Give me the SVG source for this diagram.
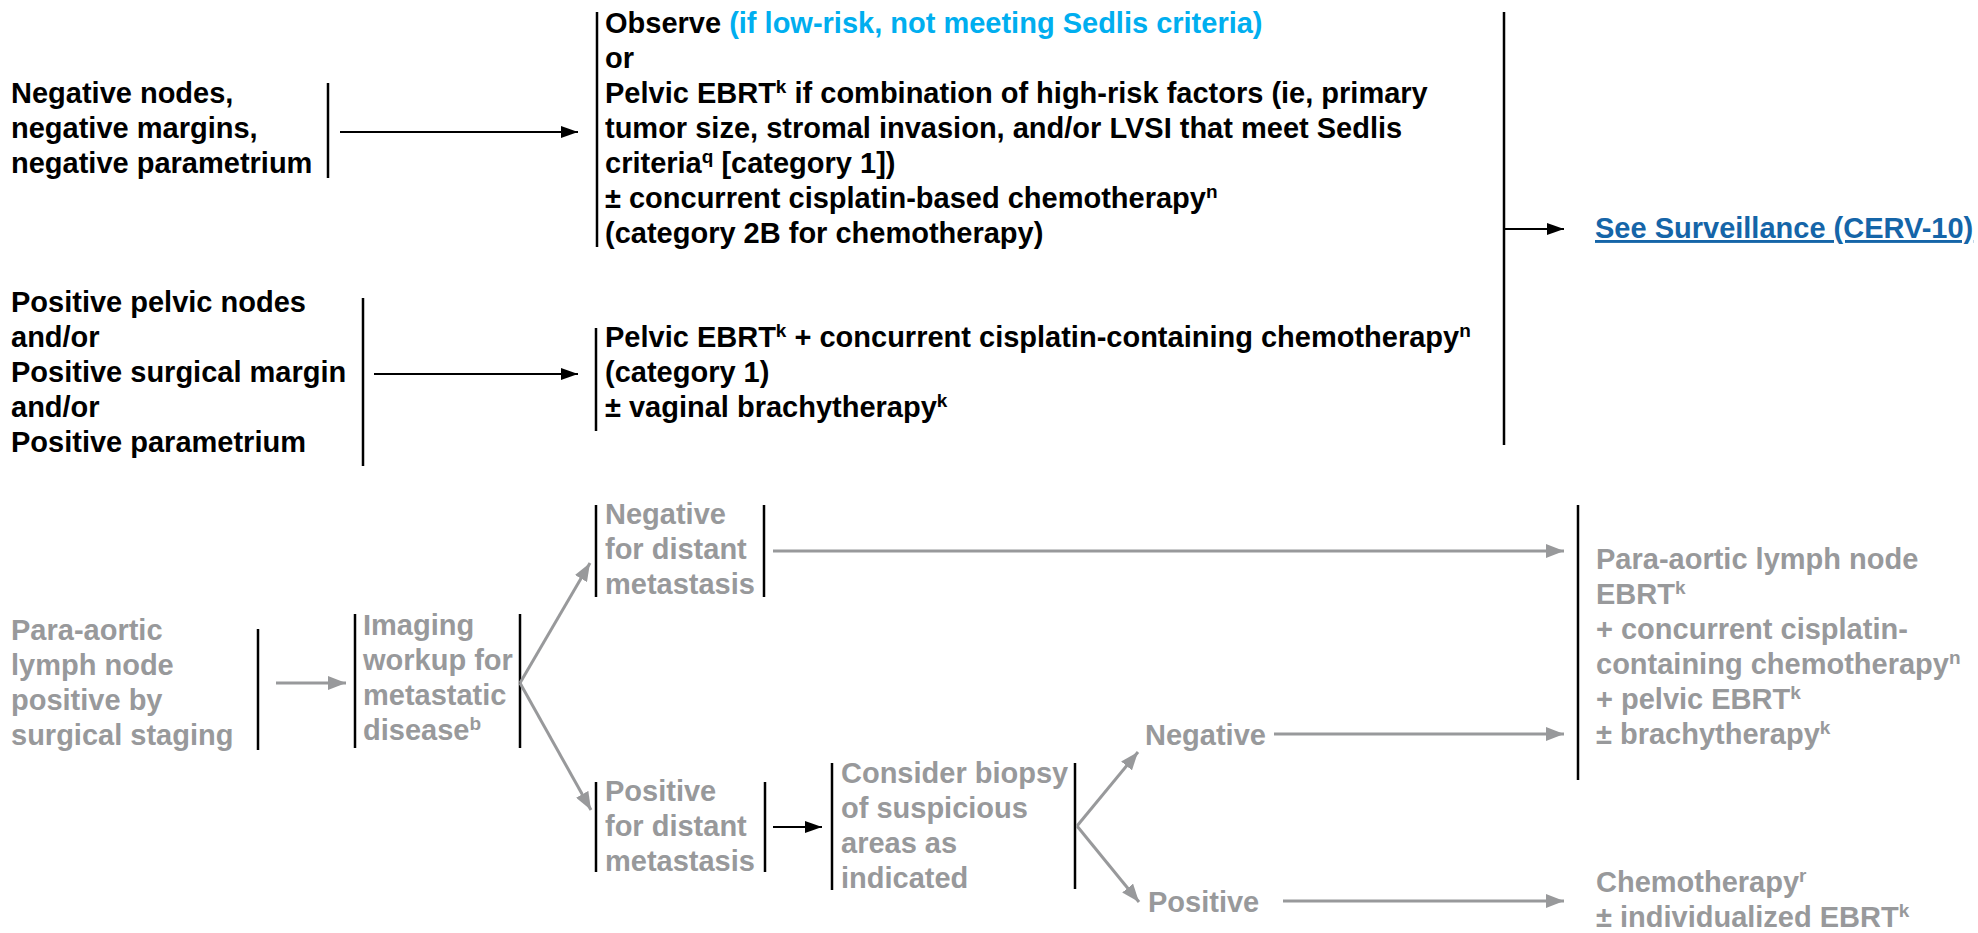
<svg xmlns="http://www.w3.org/2000/svg" width="1978" height="933" viewBox="0 0 1978 933">
<style>
text{font-family:"Liberation Sans",Arial,sans-serif;font-weight:bold;font-size:29px;}
.k{fill:#000}
.g{fill:#98999b}
.c{fill:#00aeef}
.lnk{fill:#1565a8;text-decoration:underline}
.sup{font-size:19px}
.bar{stroke:#000;stroke-width:2.5;fill:none}
.cb{stroke:#000;stroke-width:2;fill:none}
.cg{stroke:#98999b;stroke-width:3;fill:none}
</style>
<defs>
<marker id="ab" markerUnits="userSpaceOnUse" markerWidth="18" markerHeight="12" refX="17" refY="6" orient="auto"><path d="M0,0 L17,6 L0,12 z" fill="#000"/></marker>
<marker id="ag" markerUnits="userSpaceOnUse" markerWidth="19" markerHeight="14" refX="18" refY="7" orient="auto"><path d="M0,0 L18,7 L0,14 z" fill="#98999b"/></marker>
</defs>
<rect width="1978" height="933" fill="#fff"/>

<g id="n-negative-nodes">
<text class="k" x="11" y="103">Negative nodes,</text>
<text class="k" x="11" y="138">negative margins,</text>
<text class="k" x="11" y="173">negative parametrium</text>
<line class="bar" x1="328" y1="83" x2="328" y2="178"/>
</g>

<g id="n-observe">
<line class="bar" x1="597" y1="12" x2="597" y2="247"/>
<text class="k" x="605" y="33">Observe <tspan class="c">(if low-risk, not meeting Sedlis criteria)</tspan></text>
<text class="k" x="605" y="68">or</text>
<text class="k" x="605" y="103">Pelvic EBRT<tspan class="sup" dy="-10">k</tspan><tspan dy="10"> if combination of high-risk factors (ie, primary</tspan></text>
<text class="k" x="605" y="138">tumor size, stromal invasion, and/or LVSI that meet Sedlis</text>
<text class="k" x="605" y="173">criteria<tspan class="sup" dy="-10">q</tspan><tspan dy="10"> [category 1])</tspan></text>
<text class="k" x="605" y="208">± concurrent cisplatin-based chemotherapy<tspan class="sup" dy="-10">n</tspan></text>
<text class="k" x="605" y="243">(category 2B for chemotherapy)</text>
</g>

<g id="n-positive-pelvic">
<text class="k" x="11" y="312">Positive pelvic nodes</text>
<text class="k" x="11" y="347">and/or</text>
<text class="k" x="11" y="382">Positive surgical margin</text>
<text class="k" x="11" y="417">and/or</text>
<text class="k" x="11" y="452">Positive parametrium</text>
<line class="bar" x1="363" y1="298" x2="363" y2="466"/>
</g>

<g id="n-pelvic-ebrt">
<line class="bar" x1="596" y1="328" x2="596" y2="431"/>
<text class="k" x="605" y="347">Pelvic EBRT<tspan class="sup" dy="-10">k</tspan><tspan dy="10"> + concurrent cisplatin-containing chemotherapy</tspan><tspan class="sup" dy="-10">n</tspan></text>
<text class="k" x="605" y="382">(category 1)</text>
<text class="k" x="605" y="417">± vaginal brachytherapy<tspan class="sup" dy="-10">k</tspan></text>
</g>

<g id="n-surveillance">
<text class="lnk" x="1595" y="238">See Surveillance (CERV-10)</text>
</g>

<g id="n-para-aortic">
<text class="g" x="11" y="640">Para-aortic</text>
<text class="g" x="11" y="675">lymph node</text>
<text class="g" x="11" y="710">positive by</text>
<text class="g" x="11" y="745">surgical staging</text>
<line class="bar" x1="258" y1="629" x2="258" y2="750"/>
</g>

<g id="n-imaging">
<line class="bar" x1="355" y1="614" x2="355" y2="748"/>
<line class="bar" x1="520" y1="614" x2="520" y2="748"/>
<text class="g" x="363" y="635">Imaging</text>
<text class="g" x="363" y="670">workup for</text>
<text class="g" x="363" y="705">metastatic</text>
<text class="g" x="363" y="740">disease<tspan class="sup" dy="-10">b</tspan></text>
</g>

<g id="n-neg-distant">
<line class="bar" x1="596" y1="505" x2="596" y2="597"/>
<line class="bar" x1="764" y1="505" x2="764" y2="597"/>
<text class="g" x="605" y="524">Negative</text>
<text class="g" x="605" y="559">for distant</text>
<text class="g" x="605" y="594">metastasis</text>
</g>

<g id="n-pos-distant">
<line class="bar" x1="596" y1="782" x2="596" y2="872"/>
<line class="bar" x1="765" y1="782" x2="765" y2="872"/>
<text class="g" x="605" y="801">Positive</text>
<text class="g" x="605" y="836">for distant</text>
<text class="g" x="605" y="871">metastasis</text>
</g>

<g id="n-biopsy">
<line class="bar" x1="832" y1="763" x2="832" y2="890"/>
<line class="bar" x1="1075" y1="763" x2="1075" y2="889"/>
<text class="g" x="841" y="783">Consider biopsy</text>
<text class="g" x="841" y="818">of suspicious</text>
<text class="g" x="841" y="853">areas as</text>
<text class="g" x="841" y="888">indicated</text>
</g>

<g id="n-negative">
<text class="g" x="1145" y="745">Negative</text>
</g>

<g id="n-positive">
<text class="g" x="1148" y="912">Positive</text>
</g>

<g id="n-pa-ebrt">
<line class="bar" x1="1578" y1="505" x2="1578" y2="780"/>
<text class="g" x="1596" y="569">Para-aortic lymph node</text>
<text class="g" x="1596" y="604">EBRT<tspan class="sup" dy="-10">k</tspan></text>
<text class="g" x="1596" y="639">+ concurrent cisplatin-</text>
<text class="g" x="1596" y="674">containing chemotherapy<tspan class="sup" dy="-10">n</tspan></text>
<text class="g" x="1596" y="709">+ pelvic EBRT<tspan class="sup" dy="-10">k</tspan></text>
<text class="g" x="1596" y="744">± brachytherapy<tspan class="sup" dy="-10">k</tspan></text>
</g>

<g id="n-chemo">
<text class="g" x="1596" y="892">Chemotherapy<tspan class="sup" dy="-10">r</tspan></text>
<text class="g" x="1596" y="927">± individualized EBRT<tspan class="sup" dy="-10">k</tspan></text>
</g>

<g id="connectors">
<line class="cb" x1="340" y1="132" x2="578" y2="132" marker-end="url(#ab)"/>
<line class="cb" x1="374" y1="374" x2="578" y2="374" marker-end="url(#ab)"/>
<line class="bar" x1="1504" y1="12" x2="1504" y2="445"/>
<line class="cb" x1="1504" y1="229" x2="1564" y2="229" marker-end="url(#ab)"/>
<line class="cg" x1="276" y1="683" x2="346" y2="683" marker-end="url(#ag)"/>
<line class="cg" x1="520" y1="683" x2="590" y2="563" marker-end="url(#ag)"/>
<line class="cg" x1="520" y1="683" x2="591" y2="810" marker-end="url(#ag)"/>
<line class="cg" x1="773" y1="551" x2="1564" y2="551" marker-end="url(#ag)"/>
<line class="cb" x1="773" y1="827" x2="822" y2="827" marker-end="url(#ab)"/>
<line class="cg" x1="1077" y1="826" x2="1138" y2="752" marker-end="url(#ag)"/>
<line class="cg" x1="1077" y1="826" x2="1139" y2="902" marker-end="url(#ag)"/>
<line class="cg" x1="1274" y1="734" x2="1564" y2="734" marker-end="url(#ag)"/>
<line class="cg" x1="1283" y1="901" x2="1564" y2="901" marker-end="url(#ag)"/>
</g>
</svg>
